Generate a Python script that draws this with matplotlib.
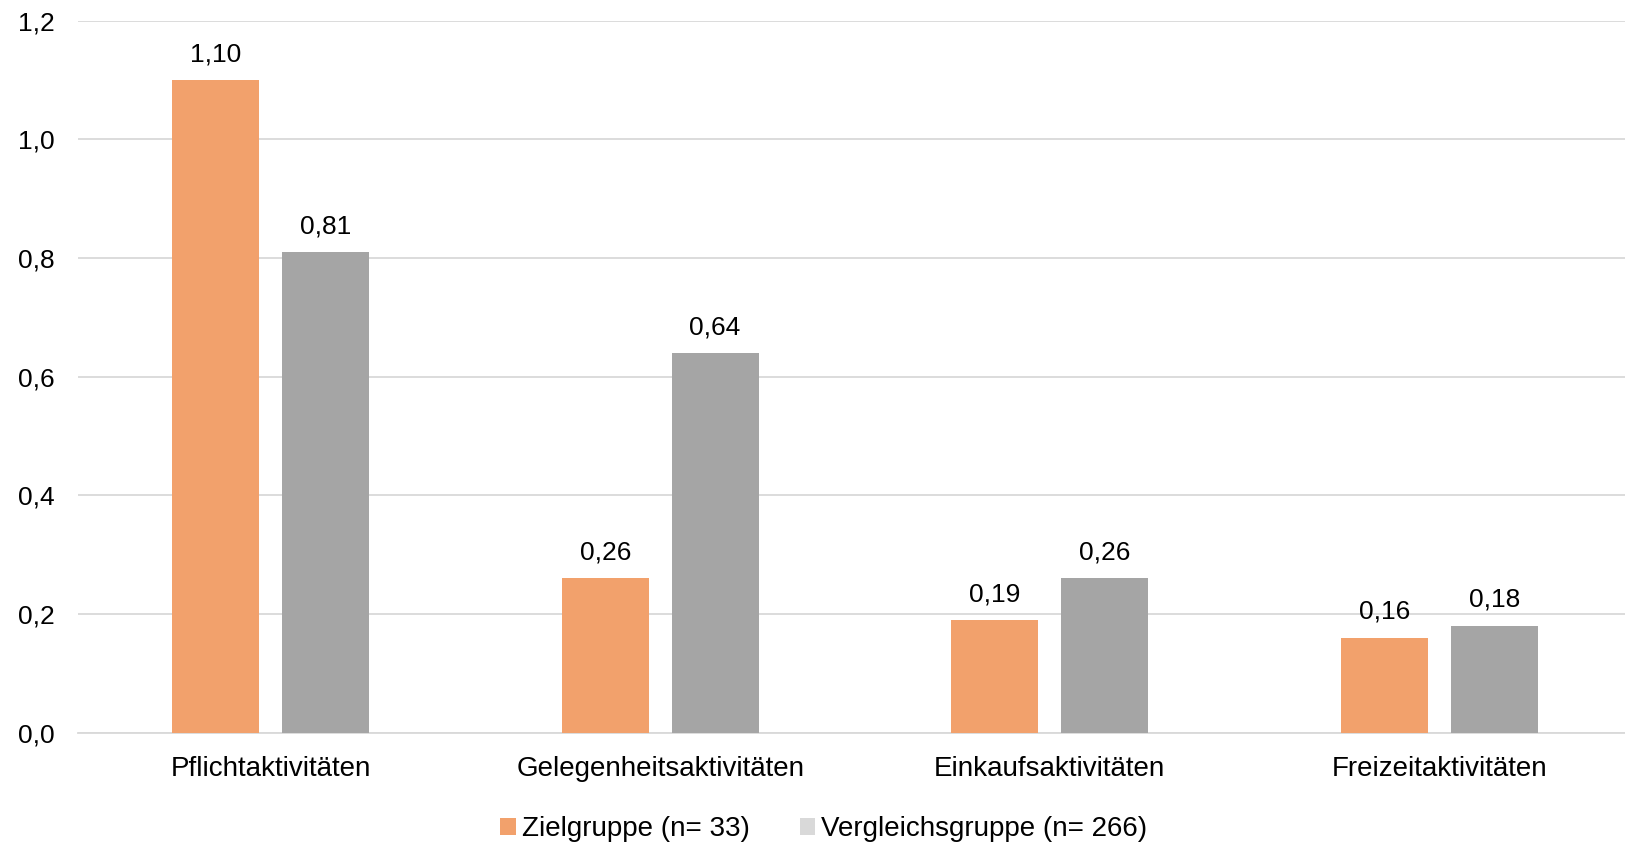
import matplotlib.pyplot as plt
import numpy as np
from matplotlib.patches import Patch

plt.rcParams["font.family"] = ["Liberation Sans", "DejaVu Sans"]

categories = ["Pflichtaktivitäten", "Gelegenheitsaktivitäten",
              "Einkaufsaktivitäten", "Freizeitaktivitäten"]
zielgruppe = [1.10, 0.26, 0.19, 0.16]
vergleichsgruppe = [0.81, 0.64, 0.26, 0.18]
series_names = ["Zielgruppe (n= 33)", "Vergleichsgruppe (n= 266)"]
y_ticks = [0.0, 0.2, 0.4, 0.6, 0.8, 1.0, 1.2]

ORANGE = "#F2A16C"
GREY = "#A5A5A5"
GRID = "#D9D9D9"


def de(v, digits):
    return f"{v:.{digits}f}".replace(".", ",")


fig = plt.figure(figsize=(16.25, 8.44), dpi=100)
ax = fig.add_axes([78 / 1625, 1 - 732.5 / 844, 1 - 78 / 1625, (732.5 - 20.7) / 844])

x = np.arange(len(categories))
w = 0.223
off = 0.141
b1 = ax.bar(x - off, zielgruppe, w, color=ORANGE, zorder=3)
b2 = ax.bar(x + off, vergleichsgruppe, w, color=GREY, zorder=3)

for bars, vals in ((b1, zielgruppe), (b2, vergleichsgruppe)):
    for r, v in zip(bars, vals):
        ax.annotate(de(v, 2), (r.get_x() + r.get_width() / 2, v),
                    xytext=(0, 13.5), textcoords="offset points",
                    ha="center", va="baseline", fontsize=19, color="black")

ax.set_ylim(0, 1.2)
ax.set_xlim(-0.494, 3.476)
ax.set_yticks(y_ticks)
ax.set_yticklabels([de(t, 1) for t in y_ticks])
ax.set_xticks(x)
ax.set_xticklabels(categories, fontsize=20)
ax.tick_params(axis="both", length=0, colors="black")
ax.tick_params(axis="y", pad=17, labelsize=19)
ax.tick_params(axis="x", pad=17)
ax.grid(axis="y", color=GRID, linewidth=1.3, zorder=0)
for s in ("top", "right", "left"):
    ax.spines[s].set_visible(False)
ax.spines["bottom"].set_color(GRID)
ax.spines["bottom"].set_linewidth(1.3)

handles = [Patch(facecolor=ORANGE), Patch(facecolor=GRID)]
fig.legend(handles, series_names, loc="center", bbox_to_anchor=(0.507, 1 - 829 / 844),
           ncol=2, frameon=False, fontsize=20, handlelength=0.56, handleheight=0.56,
           handletextpad=0.22, columnspacing=1.8, borderpad=0.2)

fig.savefig("out.png", dpi=100)
